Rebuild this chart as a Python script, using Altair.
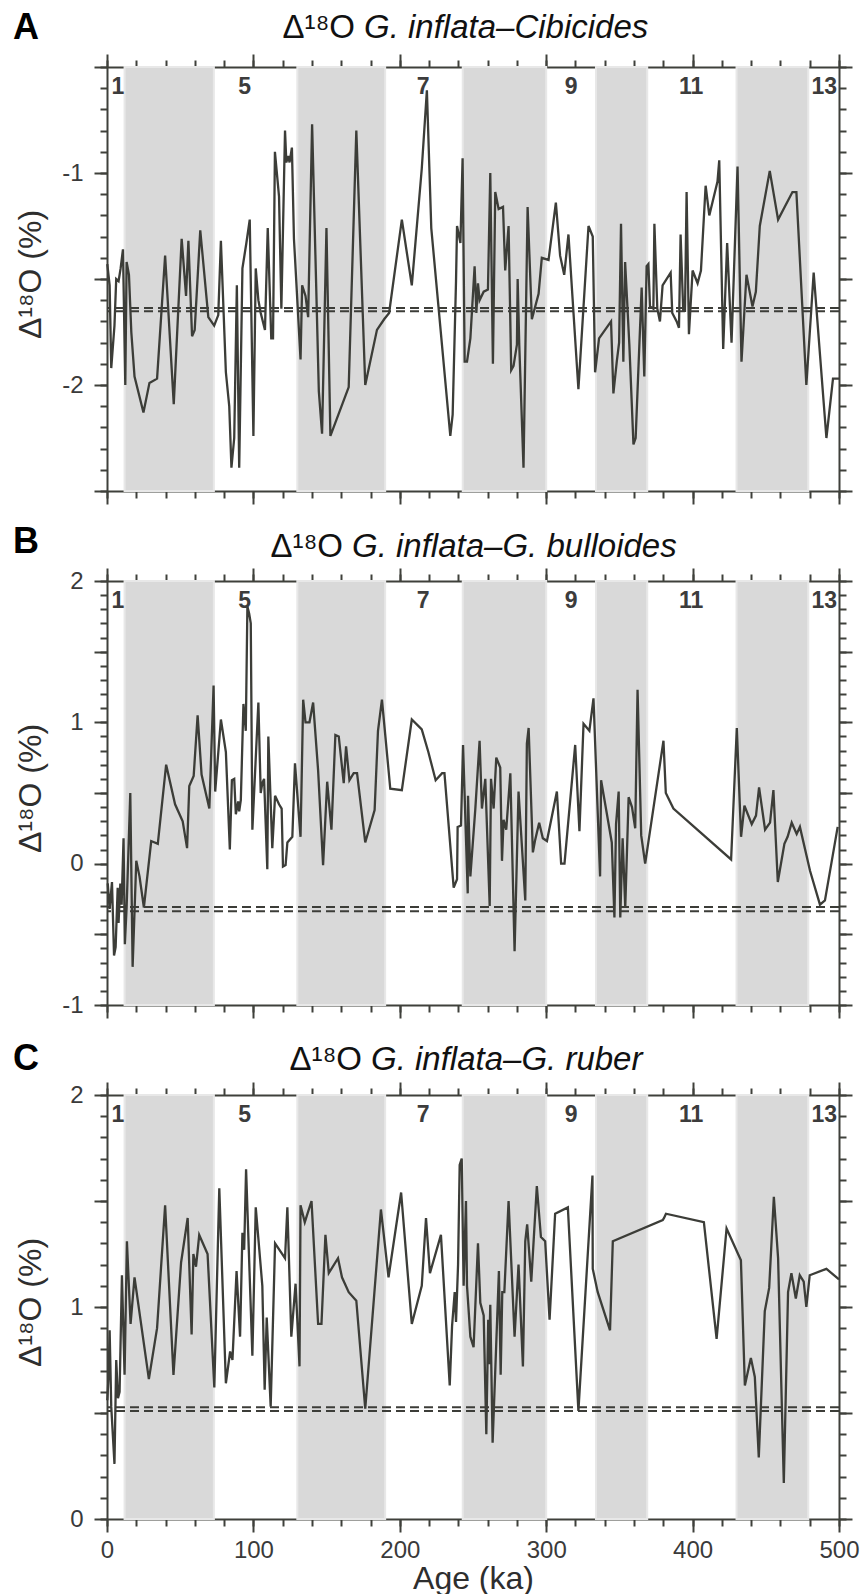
import altair as alt
import pandas as pd

FONT = "Liberation Sans"
INK = "#3c3d38"
AXC = "#3f403b"
BAND = "#d9d9d9"

# Marine isotope stage shading (glacial stages) and stage labels
band_start = [12, 130, 243, 334, 430]
band_end = [73, 190, 300, 369, 479]
mis_age = [7.5, 94, 216, 317, 399, 490]
mis_text = ["1", "5", "7", "9", "11", "13"]

# Panel A: G. inflata - Cibicides (age ka, delta)
a_points = [(0.2,-1.43),(1.8,-1.53),(2.9,-1.92),(5.1,-1.72),(6.3,-1.50),(7.9,-1.51),(9.3,-1.45),(10.9,-1.36),(12.5,-2.00),(13.4,-1.42),(15.0,-1.48),(16.6,-1.75),(18.8,-1.96),(24.9,-2.13),(29.0,-1.99),(34.2,-1.97),(39.7,-1.39),(45.6,-2.09),(51.0,-1.31),(54.0,-1.58),(55.6,-1.32),(58.1,-1.77),(59.9,-1.74),(63.7,-1.27),(69.2,-1.68),(73.2,-1.72),(76.0,-1.67),(77.8,-1.32),(81.2,-1.94),(83.5,-2.10),(85.0,-2.39),(86.9,-2.25),(88.7,-1.53),(90.3,-2.39),(92.5,-1.45),(95.2,-1.33),(97.5,-1.22),(100.0,-2.24),(101.6,-1.45),(103.4,-1.60),(105.0,-1.66),(107.9,-1.74),(109.8,-1.26),(112.2,-1.78),(113.4,-1.78),(114.7,-0.90),(117.5,-1.11),(119.1,-1.64),(121.6,-0.80),(122.5,-0.95),(123.8,-0.92),(124.7,-0.95),(126.3,-0.88),(127.7,-1.31),(132.2,-1.88),(133.3,-1.53),(135.6,-1.58),(137.4,-1.68),(140.1,-0.77),(144.7,-2.03),(146.9,-2.23),(149.9,-1.26),(152.6,-2.24),(165.1,-2.01),(170.3,-0.80),(176.4,-2.00),(184.4,-1.74),(189.3,-1.69),(192.7,-1.66),(201.4,-1.22),(208.2,-1.53),(215.0,-0.98),(218.5,-0.61),(221.5,-1.26),(234.5,-2.24),(236.1,-2.14),(238.4,-1.51),(239.1,-1.25),(241.4,-1.33),(242.9,-0.93),(244.3,-1.89),(245.9,-1.89),(248.2,-1.78),(251.1,-1.44),(252.3,-1.66),(253.4,-1.52),(254.5,-1.60),(257.3,-1.56),(260.2,-1.55),(261.8,-1.00),(263.6,-1.90),(265.2,-1.09),(267.5,-1.17),(270.5,-1.16),(272.0,-1.46),(274.3,-1.25),(276.1,-1.93),(277.7,-1.91),(280.0,-1.81),(280.5,-1.50),(281.6,-1.81),(284.5,-2.39),(287.3,-1.16),(290.2,-1.69),(294.8,-1.57),(297.0,-1.40),(301.6,-1.41),(306.6,-1.14),(309.5,-1.39),(312.3,-1.48),(315.2,-1.29),(322.0,-2.02),(328.9,-1.25),(331.8,-1.30),(333.4,-1.94),(336.1,-1.78),(344.3,-1.70),(345.9,-2.04),(348.2,-1.89),(349.8,-1.80),(351.1,-1.24),(352.7,-1.89),(353.9,-1.42),(356.8,-1.81),(359.6,-2.28),(361.1,-2.25),(365.2,-1.54),(367.0,-1.96),(368.6,-1.44),(369.8,-1.43),(370.9,-1.63),(373.2,-1.64),(373.9,-1.24),(375.9,-1.64),(377.7,-1.70),(379.5,-1.53),(385.0,-1.47),(386.1,-1.66),(389.1,-1.70),(390.7,-1.73),(391.8,-1.29),(393.6,-1.65),(394.8,-1.65),(395.9,-1.09),(397.5,-1.76),(400.0,-1.46),(403.4,-1.52),(405.7,-1.46),(408.9,-1.06),(411.4,-1.20),(417.0,-1.04),(418.2,-0.94),(420.9,-1.83),(423.6,-1.33),(426.6,-1.80),(430.7,-0.97),(433.4,-1.89),(436.8,-1.48),(440.9,-1.63),(443.2,-1.56),(445.9,-1.25),(452.7,-0.99),(458.4,-1.22),(468.2,-1.09),(470.9,-1.09),(477.7,-2.00),(482.7,-1.47),(491.4,-2.25),(495.9,-1.97),(500.0,-1.97)]

# Panel B: G. inflata - G. bulloides
b_points = [(0.5,-0.14),(1.8,-0.32),(3.4,-0.13),(4.8,-0.65),(5.9,-0.59),(7.3,-0.17),(7.9,-0.42),(9.1,-0.14),(10.0,-0.29),(10.4,-0.14),(11.3,0.18),(12.2,-0.57),(13.4,-0.31),(15.9,0.50),(17.5,-0.73),(20.0,0.02),(22.2,-0.09),(25.2,-0.31),(30.2,0.16),(34.7,0.14),(40.4,0.70),(46.5,0.42),(51.7,0.30),(54.7,0.11),(56.2,0.55),(59.2,0.62),(61.9,1.05),(64.6,0.63),(69.9,0.39),(72.8,1.26),(73.9,0.51),(77.8,1.02),(81.2,0.79),(83.9,0.10),(85.3,0.59),(86.9,0.60),(88.0,0.35),(89.6,0.44),(90.3,0.37),(91.4,0.45),(93.2,1.13),(94.8,0.94),(95.9,1.82),(97.1,1.77),(98.2,1.70),(99.3,0.24),(103.4,1.14),(105.0,0.50),(106.1,0.57),(107.3,0.60),(109.5,-0.04),(110.2,0.90),(112.9,0.11),(114.8,0.48),(117.5,0.42),(119.3,0.39),(120.2,-0.02),(122.0,-0.01),(123.2,0.15),(126.6,0.19),(128.4,0.71),(132.2,0.19),(134.0,1.16),(135.6,1.00),(138.3,1.00),(140.8,1.14),(144.2,0.66),(147.6,-0.01),(150.4,0.58),(153.3,0.24),(156.0,0.91),(158.3,0.90),(161.7,0.57),(163.3,0.83),(165.6,0.59),(168.5,0.64),(170.8,0.64),(176.4,0.15),(182.8,0.38),(185.1,0.94),(187.8,1.16),(193.5,0.53),(201.4,0.52),(208.2,1.02),(215.0,0.95),(219.5,0.79),(224.5,0.59),(228.9,0.64),(230.5,0.64),(236.8,-0.17),(239.1,-0.11),(239.5,0.26),(241.8,0.27),(243.2,0.84),(246.4,-0.21),(246.6,0.48),(248.2,-0.09),(251.6,0.39),(254.5,0.87),(256.1,0.39),(258.4,0.60),(261.4,-0.30),(262.3,0.60),(264.1,0.39),(265.9,0.75),(268.6,0.68),(269.8,0.02),(270.9,0.31),(272.7,0.24),(275.5,0.64),(278.4,-0.62),(281.1,0.51),(285.7,-0.26),(286.8,0.85),(288.0,0.96),(290.9,0.08),(292.5,0.17),(295.2,0.29),(297.7,0.18),(300.5,0.16),(307.3,0.51),(310.2,0.00),(312.5,0.00),(319.8,0.84),(322.7,0.23),(325.5,0.99),(329.5,0.94),(332.3,1.17),(336.8,-0.09),(337.5,0.59),(344.8,0.15),(346.6,-0.38),(347.7,0.28),(349.5,0.51),(350.6,-0.38),(352.2,0.18),(354.0,-0.31),(356.3,0.47),(358.6,0.40),(360.8,0.25),(362.4,1.23),(364.9,0.20),(367.6,0.00),(380.1,0.87),(381.7,0.50),(386.9,0.39),(426.3,0.03),(430.2,0.96),(433.1,0.19),(435.4,0.41),(440.4,0.28),(443.3,0.34),(445.4,0.54),(449.5,0.24),(452.9,0.29),(455.2,0.52),(458.2,-0.13),(462.7,0.14),(464.9,0.19),(467.7,0.29),(471.1,0.21),(473.3,0.26),(480.2,-0.05),(487.0,-0.29),(490.4,-0.26),(499.1,0.26)]

# Panel C: G. inflata - G. ruber
c_points = [(0.2,0.56),(1.1,0.68),(1.8,0.89),(2.9,0.53),(5.1,0.26),(6.3,0.75),(7.5,0.57),(8.6,0.60),(10.2,1.15),(12.0,0.68),(13.6,1.31),(16.1,0.92),(18.8,1.14),(28.6,0.66),(34.2,0.90),(39.7,1.48),(45.4,0.68),(50.6,1.21),(55.1,1.42),(57.8,0.87),(59.0,1.25),(60.8,1.19),(63.0,1.34),(68.7,1.25),(73.3,0.62),(76.7,1.56),(81.2,0.64),(84.1,0.79),(85.7,0.75),(88.5,1.17),(90.9,0.86),(92.5,1.35),(93.7,1.27),(95.0,1.65),(99.3,0.77),(101.6,1.47),(106.1,1.10),(107.7,0.61),(109.1,0.95),(111.8,0.53),(114.8,1.30),(121.6,1.23),(123.2,1.47),(125.9,0.86),(128.8,1.11),(131.5,0.72),(132.2,1.48),(135.1,1.40),(139.7,1.50),(144.2,0.92),(146.5,0.92),(149.2,1.34),(151.5,1.16),(157.8,1.23),(160.5,1.14),(165.1,1.07),(170.3,1.03),(176.4,0.52),(187.1,1.46),(192.3,1.14),(200.9,1.54),(208.2,0.92),(215.0,1.10),(217.9,1.42),(220.6,1.16),(228.1,1.34),(234.1,0.63),(235.7,0.91),(237.5,1.07),(238.4,0.93),(239.8,1.20),(240.9,1.67),(242.3,1.70),(243.6,1.10),(245.2,1.50),(245.9,1.10),(248.2,0.86),(250.4,0.81),(253.4,1.30),(255.0,1.02),(257.3,0.96),(259.1,0.40),(260.4,0.94),(260.9,0.73),(261.8,1.01),(263.4,0.36),(267.7,1.17),(268.9,0.68),(270.0,1.07),(271.4,1.07),(274.3,1.50),(278.4,0.86),(281.1,1.20),(284.1,0.72),(285.7,1.31),(287.0,1.39),(289.8,1.12),(293.6,1.57),(296.4,1.33),(299.3,1.31),(302.3,0.94),(306.1,1.44),(314.8,1.47),(322.0,0.51),(331.6,1.62),(331.8,1.18),(335.2,1.07),(343.6,0.89),(345.5,1.31),(379.6,1.41),(380.5,1.42),(381.8,1.44),(407.7,1.40),(416.4,0.85),(423.2,1.37),(433.0,1.22),(435.7,0.63),(439.8,0.76),(442.5,0.67),(445.2,0.29),(449.3,0.98),(452.3,1.09),(455.5,1.52),(458.4,1.23),(462.3,0.17),(465.2,1.07),(467.5,1.16),(470.5,1.04),(473.2,1.15),(475.9,1.12),(477.7,1.00),(480.0,1.15),(491.4,1.18),(500.0,1.13)]

# Reference (dashed) levels
a_dash = [-1.637, -1.652]
b_dash = [-0.307, -0.337]
c_dash = [0.527, 0.509]

x_major = list(range(0, 501, 100))
x_minor = list(range(0, 501, 20))

W, H = 732, 424
TFS = 33


def steps(lo, hi, step):
    n = int(round((hi - lo) / step))
    return [round(lo + i * step, 2) for i in range(n + 1)]


def panel(points, dash, ydom, letter, letter_y, title_y, split_x, italic, xlabels):
    df = pd.DataFrame(points, columns=["age", "val"])
    xs = alt.Scale(domain=[0, 500], nice=False, zero=False)
    ys = alt.Scale(domain=ydom, nice=False, zero=False)
    ymaj = steps(ydom[0], ydom[1], 0.5)
    ymin = steps(ydom[0], ydom[1], 0.1)
    ax = dict(grid=False, domainColor=AXC, tickColor=AXC, domainWidth=2, tickWidth=2,
              labelFont=FONT, titleFont=FONT, labelColor="#3a3a3a", titleColor="#2e2e2e",
              labelOverlap=False, labelFlush=False)

    bands = alt.Chart(pd.DataFrame({"s": band_start, "e": band_end})).mark_rect(
        color=BAND, stroke="#e8e8e8", strokeWidth=2
    ).encode(x=alt.X("s:Q", scale=xs, axis=None), x2="e:Q")

    line = alt.Chart(df).mark_line(color=INK, strokeWidth=2.3).encode(
        x=alt.X("age:Q", scale=xs, title="Age (ka)" if xlabels else None,
                axis=alt.Axis(orient="bottom", values=x_major, tickSize=13, labels=xlabels,
                              labelFontSize=24, labelPadding=6, titleFontSize=32,
                              titleFontWeight="normal", titleX=366, titleY=69,
                              titleBaseline="alphabetic", **ax)),
        y=alt.Y("val:Q", scale=ys, title="Δ¹⁸O (%)",
                axis=alt.Axis(orient="left", values=ymaj, tickSize=13,
                              labelExpr="datum.value % 1 == 0 ? '' + datum.value : ''",
                              labelFontSize=24, labelPadding=11, titleFontSize=32,
                              titleFontWeight="normal", titleX=-67, titleY=207, titleAngle=-90,
                              titleBaseline="alphabetic", titleAlign="center", **ax)),
    )

    def carrier(orient_x, orient_y, vx, vy, size, domain):
        return alt.Chart(df).mark_point(opacity=0).encode(
            x=alt.X("age:Q", scale=xs, title=None,
                    axis=alt.Axis(orient=orient_x, values=vx, tickSize=size, labels=False,
                                  domain=domain, **ax)),
            y=alt.Y("val:Q", scale=ys, title=None,
                    axis=alt.Axis(orient=orient_y, values=vy, tickSize=size, labels=False,
                                  domain=domain, **ax)),
        )

    minor_lb = carrier("bottom", "left", x_minor, ymin, 7, False)
    major_tr = carrier("top", "right", x_major, ymaj, 13, True)
    minor_tr = carrier("top", "right", x_minor, ymin, 7, False)

    rules = alt.Chart(pd.DataFrame({"d": dash})).mark_rule(
        color=INK, strokeWidth=2, strokeDash=[9, 5]
    ).encode(y=alt.Y("d:Q", scale=ys, axis=None))

    mis = alt.Chart(pd.DataFrame({"age": mis_age, "t": mis_text})).mark_text(
        font=FONT, fontSize=23, fontWeight="bold", color="#3c3c3c", baseline="middle", align="center"
    ).encode(x=alt.X("age:Q", scale=xs, axis=None), y=alt.value(20), text="t:N")

    lab = alt.Chart(pd.DataFrame({"t": [letter]})).mark_text(
        font=FONT, fontSize=36, fontWeight="bold", color="#000000", align="left", baseline="alphabetic"
    ).encode(x=alt.value(-94), y=alt.value(letter_y), text="t:N")

    t1 = alt.Chart(pd.DataFrame({"t": ["Δ¹⁸O"]})).mark_text(
        font=FONT, fontSize=TFS, color="#111111", align="right", baseline="alphabetic"
    ).encode(x=alt.value(split_x), y=alt.value(title_y), text="t:N")

    t2 = alt.Chart(pd.DataFrame({"t": [italic]})).mark_text(
        font=FONT, fontSize=TFS, fontStyle="italic", color="#111111", align="left", baseline="alphabetic"
    ).encode(x=alt.value(split_x + 9), y=alt.value(title_y), text="t:N")

    return alt.layer(bands, line, minor_lb, major_tr, minor_tr, rules, mis, lab, t1, t2).resolve_scale(
        x="shared", y="shared"
    ).resolve_axis(x="independent", y="independent").properties(width=W, height=H)


pa = panel(a_points, a_dash, [-2.5, -0.5], "A", -28, -29, 248, "G. inflata–Cibicides", False)
pb = panel(b_points, b_dash, [-1, 2], "B", -28, -24, 236, "G. inflata–G. bulloides", False)
pc = panel(c_points, c_dash, [0, 2], "C", -25, -25, 255, "G. inflata–G. ruber", True)

chart = alt.vconcat(pa, pb, pc, spacing=90, bounds="flush").properties(
    padding={"left": 13, "top": 10, "right": 0, "bottom": 0}
).configure_view(stroke=None)

chart.save("out.html", embed_options={"renderer": "svg", "actions": False})
